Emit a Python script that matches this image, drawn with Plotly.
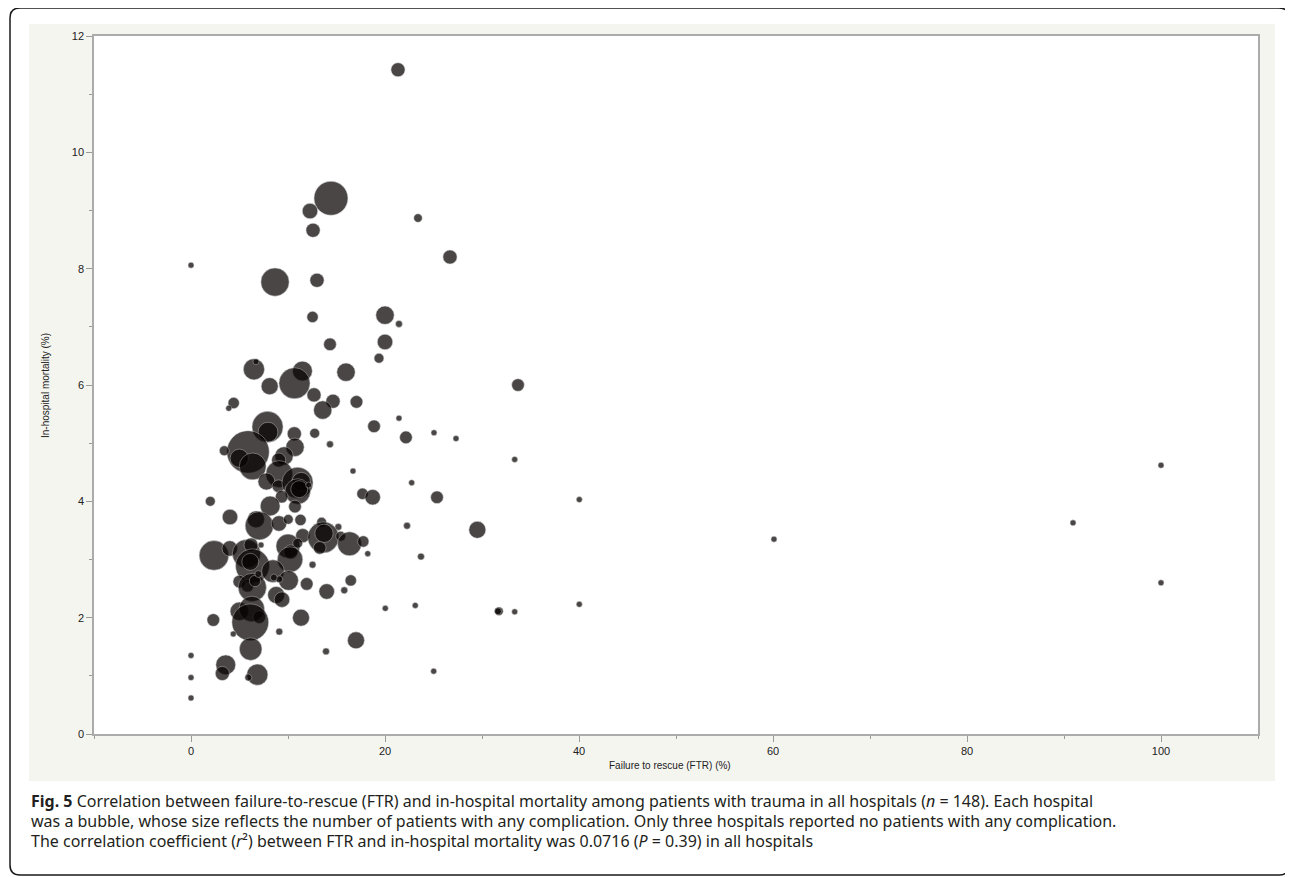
import plotly.graph_objects as go

# Failure to rescue (FTR) (%) per hospital
ftr = [21.34, 14.43, 12.27, 12.58, 23.40, 26.70, 0.0, 8.66, 12.99, 20.0,
       12.53, 21.44, 20.0, 14.33, 19.38, 6.49, 6.70, 11.49, 15.98, 10.67,
       8.11, 33.71, 12.68, 14.64, 17.06, 13.58, 4.40, 3.89, 7.89, 7.94,
       21.44, 18.87, 10.65, 12.75, 22.16, 25.05, 27.32, 14.33, 10.72, 5.88,
       3.43, 4.98, 6.36, 9.59, 9.04, 9.10, 33.37, 16.70, 7.78, 9.02,
       10.98, 11.37, 11.0, 11.16, 12.13, 22.75, 17.68, 18.73, 25.36, 40.03,
       1.99, 9.35, 10.72, 8.16, 4.02, 6.70, 7.04, 9.07, 10.03, 11.29,
       13.47, 15.19, 22.27, 29.52, 11.52, 13.64, 13.71, 13.27, 15.43, 16.34,
       17.76, 18.22, 23.71, 12.53, 2.37, 4.0, 5.72, 6.19, 6.34, 6.11,
       7.22, 10.0, 10.28, 10.21, 11.0, 8.45, 10.05, 9.10, 8.54, 11.93,
       13.99, 16.47, 15.80, 20.03, 23.12, 31.75, 31.65, 33.37, 40.03, 4.98,
       5.82, 6.32, 6.60, 6.94, 8.78, 9.38, 4.98, 6.27, 7.04, 6.11,
       2.30, 11.34, 4.36, 9.10, 6.15, 17.01, 13.92, 3.58, 3.23, 6.84,
       5.91, 0.0, 0.0, 0.0, 25.02, 60.1, 90.93, 100.0, 100.0]

# In-hospital mortality (%) per hospital
mortality = [11.42, 9.21, 8.99, 8.66, 8.87, 8.20, 8.06, 7.77, 7.80, 7.20,
             7.17, 7.05, 6.74, 6.70, 6.46, 6.27, 6.40, 6.24, 6.22, 6.03,
             5.98, 6.00, 5.83, 5.72, 5.71, 5.57, 5.69, 5.60, 5.28, 5.19,
             5.43, 5.29, 5.16, 5.17, 5.10, 5.18, 5.08, 4.98, 4.93, 4.85,
             4.87, 4.74, 4.60, 4.78, 4.71, 4.47, 4.72, 4.52, 4.34, 4.26,
             4.32, 4.34, 4.17, 4.21, 4.28, 4.32, 4.13, 4.07, 4.07, 4.03,
             4.00, 4.08, 3.91, 3.92, 3.73, 3.69, 3.58, 3.62, 3.69, 3.68,
             3.64, 3.56, 3.58, 3.51, 3.41, 3.38, 3.45, 3.20, 3.40, 3.27,
             3.31, 3.10, 3.05, 2.91, 3.07, 3.19, 3.10, 3.25, 2.89, 2.96,
             3.25, 3.23, 3.13, 3.00, 3.28, 2.80, 2.64, 2.66, 2.69, 2.58,
             2.45, 2.64, 2.47, 2.16, 2.21, 2.11, 2.11, 2.10, 2.23, 2.62,
             2.55, 2.52, 2.63, 2.75, 2.39, 2.31, 2.11, 2.15, 2.01, 1.92,
             1.96, 2.00, 1.72, 1.76, 1.46, 1.61, 1.42, 1.19, 1.04, 1.02,
             0.97, 1.35, 0.97, 0.62, 1.08, 3.35, 3.63, 4.62, 2.60]

# Number of patients with any complication (bubble size)
complications = [25, 144, 30, 25, 9, 25, 4, 100, 25, 42,
                 16, 6, 30, 20, 12, 56, 4, 49, 42, 121,
                 36, 20, 25, 25, 20, 42, 16, 4, 121, 49,
                 4, 20, 25, 12, 20, 4, 4, 6, 42, 225,
                 12, 42, 90, 42, 25, 90, 4, 4, 36, 20,
                 121, 42, 81, 36, 4, 4, 16, 30, 20, 4,
                 12, 20, 20, 49, 30, 36, 100, 30, 12, 16,
                 12, 6, 6, 36, 25, 121, 42, 20, 12, 72,
                 16, 4, 6, 6, 110, 30, 100, 25, 144, 36,
                 4, 72, 25, 81, 12, 64, 49, 6, 6, 20,
                 30, 16, 6, 4, 4, 9, 6, 4, 4, 20,
                 20, 100, 16, 6, 36, 30, 42, 81, 20, 169,
                 20, 36, 4, 6, 64, 36, 6, 49, 25, 56,
                 6, 4, 4, 4, 4, 4, 4, 4, 4]

x_major = [0, 20, 40, 60, 80, 100]
y_major = [0, 2, 4, 6, 8, 10, 12]

caption_lines = [
    "<b>Fig. 5</b> Correlation between failure-to-rescue (FTR) and in-hospital mortality among patients with trauma in all hospitals (<i>n</i> = 148). Each hospital",
    "was a bubble, whose size reflects the number of patients with any complication. Only three hospitals reported no patients with any complication.",
    "The correlation coefficient (<i>r</i>²) between FTR and in-hospital mortality was 0.0716 (<i>P</i> = 0.39) in all hospitals",
]

# the page body adds an 8px offset; work in screen pixels and subtract it
OFF = 8
W, H = 1293 - OFF, 877 - OFF
L, R, T, B = 94 - OFF, 1258 - OFF, 36 - OFF, 734 - OFF
PW, PH = R - L, B - T


def px(xs):
    return (xs - OFF - L) / PW


def py(ys):
    return (B - (ys - OFF)) / PH


fig = go.Figure()
fig.add_trace(go.Scatter(
    x=ftr, y=mortality, mode="markers",
    marker=dict(size=complications, sizemode="area", sizeref=0.25, sizemin=3,
                color="rgb(8,3,3)", opacity=0.73,
                line=dict(width=0.6, color="rgba(210,210,210,0.9)")),
    hoverinfo="x+y", showlegend=False,
))

# rounded outer border (screen pixel coords)
bx0, bx1, by0, by1, r = 10, 1289, 8, 875, 10
path = (f"M {px(bx0 + r)},{py(by0)} L {px(bx1 - r)},{py(by0)} "
        f"Q {px(bx1)},{py(by0)} {px(bx1)},{py(by0 + r)} "
        f"L {px(bx1)},{py(by1 - r)} Q {px(bx1)},{py(by1)} {px(bx1 - r)},{py(by1)} "
        f"L {px(bx0 + r)},{py(by1)} Q {px(bx0)},{py(by1)} {px(bx0)},{py(by1 - r)} "
        f"L {px(bx0)},{py(by0 + r)} Q {px(bx0)},{py(by0)} {px(bx0 + r)},{py(by0)} Z")

shapes = [
    dict(type="rect", xref="paper", yref="paper", x0=px(29), x1=px(1275), y0=py(781), y1=py(24),
         fillcolor="#F5F5F0", line=dict(width=0), layer="below"),
    dict(type="rect", xref="paper", yref="paper", x0=0, x1=1, y0=0, y1=1,
         fillcolor="white", line=dict(width=0), layer="below"),
    dict(type="path", xref="paper", yref="paper", path=path,
         line=dict(color="#1a1a1a", width=1.5), layer="above"),
]

annotations = [
    dict(text="In-hospital mortality (%)", xref="paper", yref="paper", x=px(45), y=py(385),
         textangle=-90, showarrow=False, font=dict(family="Liberation Sans", size=10, color="#222"),
         xanchor="center", yanchor="middle"),
    dict(text="Failure to rescue (FTR) (%)", xref="paper", yref="paper", x=px(670), y=py(766),
         showarrow=False, font=dict(family="Liberation Sans", size=10, color="#222"),
         xanchor="center", yanchor="middle"),
]
for line, yc in zip(caption_lines, [801, 821, 841]):
    annotations.append(dict(text=line, xref="paper", yref="paper", x=px(29), y=py(yc),
                            showarrow=False, xanchor="left", yanchor="middle", align="left",
                            font=dict(family="Noto Sans", size=16, color="#231f20")))

axis_common = dict(showline=True, linecolor="#ababab", linewidth=1.5, mirror=True,
                   showgrid=False, zeroline=False, ticks="outside", ticklen=6,
                   tickcolor="#9a9a9a", tickwidth=1.3,
                   tickfont=dict(family="Liberation Sans", size=11, color="#222"))

fig.update_layout(
    width=W, height=H, autosize=False,
    margin=dict(l=L, r=W - R, t=T, b=H - B, pad=0),
    paper_bgcolor="white", plot_bgcolor="white",
    xaxis=dict(range=[-10, 110], tickvals=x_major,
               minor=dict(tickvals=[-10, 10, 30, 50, 70, 90, 110], ticklen=3, ticks="outside",
                          tickcolor="#9a9a9a", tickwidth=1.2),
               **axis_common),
    yaxis=dict(range=[0, 12], tickvals=y_major,
               minor=dict(tickvals=[1, 3, 5, 7, 9, 11], ticklen=3, ticks="outside",
                          tickcolor="#9a9a9a", tickwidth=1.2),
               **axis_common),
    shapes=shapes, annotations=annotations,
)

fig.write_html("out.html")
